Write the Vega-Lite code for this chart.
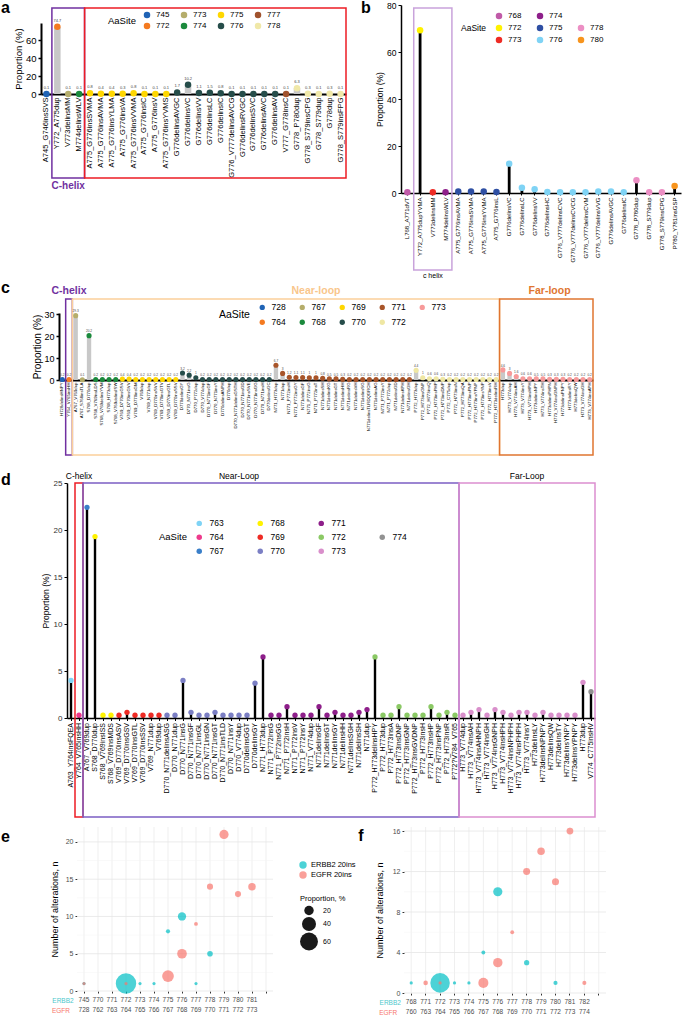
{
"$schema":"https://vega.github.io/schema/vega-lite/v6.json",
"width":683,"height":1016,
"autosize":{"type":"none"},
"padding":0,
"background":"white",
"config":{
  "font":"Liberation Sans",
  "view":{"stroke":null},
  "axis":{"labelColor":"#000","domainColor":"#000","tickColor":"#000","titleColor":"#000","titleFontWeight":"normal","grid":false},
  "legend":{"labelColor":"#000","titleColor":"#000","titleFontWeight":"normal"}
},
"datasets":{
 "a":[
  {"mutation":"A745_G746insSVS","site":"745","value":0.1},
  {"mutation":"Y772_A775dup","site":"772","value":74.7},
  {"mutation":"V773delinsMM","site":"773","value":0.1},
  {"mutation":"M774delinsWLV","site":"774","value":0.1},
  {"mutation":"A775_G776insSVMA","site":"775","value":0.8},
  {"mutation":"A775_G776insAVMA","site":"775","value":0.4},
  {"mutation":"A775_G776insYLMA","site":"775","value":0.4},
  {"mutation":"A775_G776insVA","site":"775","value":0.3},
  {"mutation":"A775_G776insVVMA","site":"775","value":0.8},
  {"mutation":"A775_G776insIC","site":"775","value":0.1},
  {"mutation":"A775_G776insV","site":"775","value":0.1},
  {"mutation":"A775_G776insYVMS","site":"775","value":0.1},
  {"mutation":"G776delinsAVGC","site":"776","value":1.7},
  {"mutation":"G776delinsVC","site":"776","value":10.2},
  {"mutation":"G776delinsVV","site":"776","value":1.1},
  {"mutation":"G776delinsLC","site":"776","value":1.5},
  {"mutation":"G776delinsIC","site":"776","value":0.8},
  {"mutation":"G776_V777delinsAVCG","site":"776","value":0.1},
  {"mutation":"G776delinsRVGC","site":"776","value":0.1},
  {"mutation":"G776delinsSVC","site":"776","value":0.1},
  {"mutation":"G776delinsAVC","site":"776","value":0.1},
  {"mutation":"G776delinsAV","site":"776","value":0.1},
  {"mutation":"V777_G778insC","site":"777","value":0.1},
  {"mutation":"G778_P780dup","site":"778","value":6.3},
  {"mutation":"G778_S779insCPG","site":"778","value":0.3},
  {"mutation":"G778_S779dup","site":"778","value":0.1},
  {"mutation":"G778dup","site":"778","value":0.3},
  {"mutation":"G778_S779insFPG","site":"778","value":0.1}
 ],
 "aBox":[
  {"region":"C-helix","first":"Y772_A775dup","last":"M774delinsWLV","at":"V773delinsMM"},
  {"region":"rest","first":"A775_G776insSVMA","last":"G778_S779insFPG","at":"G776delinsLC"}
 ],
 "b":[
  {"mutation":"L768_A771dVT","site":"768","value":0.3},
  {"mutation":"Y772_A775dupYVMA","site":"772","value":69.3},
  {"mutation":"V773delinsMM","site":"773","value":0.3},
  {"mutation":"M774delinsWLV","site":"774","value":0.3},
  {"mutation":"A775_G776insAVMA","site":"775","value":0.6},
  {"mutation":"A775_G776insSVMA","site":"775","value":0.6},
  {"mutation":"A775_G776insYVMA","site":"775","value":0.6},
  {"mutation":"A775_G776insL","site":"775","value":0.4},
  {"mutation":"G776delinsVC","site":"776","value":12.5},
  {"mutation":"G776delinsLC","site":"776","value":2.2},
  {"mutation":"G776delinsVV","site":"776","value":1.6},
  {"mutation":"G776delinsHC","site":"776","value":0.4},
  {"mutation":"G776_V777delinsCVC","site":"776","value":0.3},
  {"mutation":"G776_V777delinsCVCG","site":"776","value":0.3},
  {"mutation":"G776_V777delinsCVM","site":"776","value":0.3},
  {"mutation":"G776_V777delinsVVG","site":"776","value":0.6},
  {"mutation":"G776delinsAVGC","site":"776","value":0.6},
  {"mutation":"G776delinsIC","site":"776","value":0.3},
  {"mutation":"G778_P780dup","site":"778","value":5.4},
  {"mutation":"G778_S779dup","site":"778","value":0.3},
  {"mutation":"G778_S779insCPG","site":"778","value":0.3},
  {"mutation":"P780_Y781insGSP","site":"780","value":3.0}
 ],
 "bBox":[
  {"region":"c helix","first":"Y772_A775dupYVMA","last":"M774delinsWLV","at":"V773delinsMM"}
 ],
 "c":[
  {"mutation":"H728delinsHNPY","site":"728","value":0.2},
  {"mutation":"Y764_V765insHH","site":"764","value":0.2},
  {"mutation":"A767_V769dup","site":"767","value":29.3},
  {"mutation":"A767_S768insTLA","site":"767","value":0.1},
  {"mutation":"S768_D770dup","site":"768","value":20.2},
  {"mutation":"S768_V769insLDS","site":"768","value":0.2},
  {"mutation":"S768_V769delinsYVM","site":"768","value":0.2},
  {"mutation":"S768_H773dup","site":"768","value":0.2},
  {"mutation":"S768_V769delinsISW","site":"768","value":0.2},
  {"mutation":"V769_D770insGSV","site":"769","value":0.4},
  {"mutation":"V769_D770insGVV","site":"769","value":0.4},
  {"mutation":"V769_D770insGM","site":"769","value":0.2},
  {"mutation":"V769dup","site":"769","value":0.2},
  {"mutation":"V769_N771dup","site":"769","value":0.2},
  {"mutation":"V769_D770insSVV","site":"769","value":0.2},
  {"mutation":"V769_D770insGTV","site":"769","value":0.2},
  {"mutation":"V769_D770insGTL","site":"769","value":0.2},
  {"mutation":"V769_D770insSSV","site":"769","value":0.2},
  {"mutation":"D770delinsGY","site":"770","value":3.2},
  {"mutation":"D770_N771insG","site":"770","value":2.2},
  {"mutation":"D770_P772dup","site":"770","value":1.0},
  {"mutation":"D770_V774dup","site":"770","value":0.2},
  {"mutation":"D770_N771insGF","site":"770","value":0.2},
  {"mutation":"D770_N771insY","site":"770","value":0.2},
  {"mutation":"D770delinsANPH","site":"770","value":0.2},
  {"mutation":"D770dup","site":"770","value":0.2},
  {"mutation":"D770_N771delinsGSTH","site":"770","value":0.2},
  {"mutation":"D770_N771insGD","site":"770","value":0.2},
  {"mutation":"D770_N771insSVE","site":"770","value":0.2},
  {"mutation":"D770_N771insGG","site":"770","value":0.2},
  {"mutation":"D770_N771insH","site":"770","value":0.2},
  {"mutation":"D770delinsGC","site":"770","value":0.2},
  {"mutation":"N771_H773dup","site":"771","value":6.7},
  {"mutation":"N771dup","site":"771","value":3.0},
  {"mutation":"N771_P772insH","site":"771","value":1.2},
  {"mutation":"N771_P772insGY","site":"771","value":1.1},
  {"mutation":"N771delinsGF","site":"771","value":1.1},
  {"mutation":"N771_P772insG","site":"771","value":1.0},
  {"mutation":"N771_P772insT","site":"771","value":1.0},
  {"mutation":"N771delinsSH","site":"771","value":0.8},
  {"mutation":"N771delinsKG","site":"771","value":0.5},
  {"mutation":"N771delinsGT","site":"771","value":0.5},
  {"mutation":"N771delinsHH","site":"771","value":0.3},
  {"mutation":"N771delinsRG","site":"771","value":0.2},
  {"mutation":"N771delinsVH","site":"771","value":0.2},
  {"mutation":"N771delinsSG","site":"771","value":0.2},
  {"mutation":"N771delinsTLRDQGRCH","site":"771","value":0.2},
  {"mutation":"N771delinsAG","site":"771","value":0.2},
  {"mutation":"N771_P772insY","site":"771","value":0.2},
  {"mutation":"N771_P772dup","site":"771","value":0.2},
  {"mutation":"N771delinsGD","site":"771","value":0.2},
  {"mutation":"N771delinsKPH","site":"771","value":0.2},
  {"mutation":"N771delinsGH","site":"771","value":0.2},
  {"mutation":"P772_H773dup","site":"772","value":4.4},
  {"mutation":"P772_H773insGNP","site":"772","value":1.0},
  {"mutation":"P772_H773insQ","site":"772","value":0.6},
  {"mutation":"P772_H773insPHP","site":"772","value":0.6},
  {"mutation":"P772_H773insDNP","site":"772","value":0.3},
  {"mutation":"P772_C775dup","site":"772","value":0.2},
  {"mutation":"P772_H773insN","site":"772","value":0.2},
  {"mutation":"P772_H773insQA","site":"772","value":0.2},
  {"mutation":"P772_H773insPNP","site":"772","value":0.2},
  {"mutation":"P772_H773insYPNP","site":"772","value":0.2},
  {"mutation":"P772_H773insYNP","site":"772","value":0.2},
  {"mutation":"P772_H773insV","site":"772","value":0.2},
  {"mutation":"P772_H773delinsRH","site":"772","value":0.2},
  {"mutation":"H773dup","site":"773","value":4.6},
  {"mutation":"H773_V774dup","site":"773","value":3.0},
  {"mutation":"H773_V774insAH","site":"773","value":1.6},
  {"mutation":"H773_V774insY","site":"773","value":0.6},
  {"mutation":"H773_V774insHPH","site":"773","value":0.6},
  {"mutation":"H773delinsNPY","site":"773","value":0.5},
  {"mutation":"H773_V774insTH","site":"773","value":0.5},
  {"mutation":"H773delinsPHPN","site":"773","value":0.3},
  {"mutation":"H773_V774insGNPH","site":"773","value":0.3},
  {"mutation":"H773delinsPNPY","site":"773","value":0.3},
  {"mutation":"H773delinsRY","site":"773","value":0.2},
  {"mutation":"H773delinsQW","site":"773","value":0.2},
  {"mutation":"H773_V774insGH","site":"773","value":0.2},
  {"mutation":"H773_V774insAPH","site":"773","value":0.2}
 ],
 "cBox":[
  {"region":"C-helix","first":"Y764_V765insHH","last":"Y764_V765insHH","at":"Y764_V765insHH"},
  {"region":"Near-loop","first":"A767_V769dup","last":"P772_H773delinsRH","at":"N771_P772insT"},
  {"region":"Far-loop","first":"H773dup","last":"H773_V774insAPH","at":"H773delinsPHPN"}
 ],
 "d":[
  {"mutation":"A763_Y764insFQEA","site":"763","value":4.0},
  {"mutation":"Y764_V765insHH","site":"764","value":0.3},
  {"mutation":"A767_V769dup","site":"767","value":22.4},
  {"mutation":"S768_D770dup","site":"768","value":19.3},
  {"mutation":"S768_V769insISS","site":"768","value":0.3},
  {"mutation":"S768_V769insMDS","site":"768","value":0.3},
  {"mutation":"V769_D770insASV","site":"769","value":0.3},
  {"mutation":"V769_D770insGSV","site":"769","value":0.6},
  {"mutation":"V769_D770insGTL","site":"769","value":0.3},
  {"mutation":"V769_D770insSSV","site":"769","value":0.3},
  {"mutation":"V769_N771dup","site":"769","value":0.3},
  {"mutation":"V769dup","site":"769","value":0.3},
  {"mutation":"D770_N771delinsASG","site":"770","value":0.3},
  {"mutation":"D770_N771dup","site":"770","value":0.3},
  {"mutation":"D770_N771insG","site":"770","value":4.0},
  {"mutation":"D770_N771insGF","site":"770","value":0.6},
  {"mutation":"D770_N771insGL","site":"770","value":0.3},
  {"mutation":"D770_N771insGN","site":"770","value":0.3},
  {"mutation":"D770_N771insGT","site":"770","value":0.6},
  {"mutation":"D770_N771insTLD","site":"770","value":0.3},
  {"mutation":"D770_N771insY","site":"770","value":0.3},
  {"mutation":"D770_V774dup","site":"770","value":0.3},
  {"mutation":"D770delinsGGT","site":"770","value":0.3},
  {"mutation":"D770delinsGY","site":"770","value":3.7},
  {"mutation":"N771_H773dup","site":"771","value":6.5},
  {"mutation":"N771_P772insG","site":"771","value":0.3},
  {"mutation":"N771_P772insGG","site":"771","value":0.3},
  {"mutation":"N771_P772insH","site":"771","value":1.2},
  {"mutation":"N771_P772insV","site":"771","value":0.3},
  {"mutation":"N771_P772insY","site":"771","value":0.3},
  {"mutation":"N771_V774dup","site":"771","value":0.3},
  {"mutation":"N771delinsGF","site":"771","value":1.2},
  {"mutation":"N771delinsGT","site":"771","value":0.3},
  {"mutation":"N771delinsGY","site":"771","value":0.6},
  {"mutation":"N771delinsHH","site":"771","value":0.3},
  {"mutation":"N771delinsSGH","site":"771","value":0.3},
  {"mutation":"N771delinsSH","site":"771","value":0.6},
  {"mutation":"N771dup","site":"771","value":0.9},
  {"mutation":"P772_H773delinsHPY","site":"772","value":6.5},
  {"mutation":"P772_H773dup","site":"772","value":0.3},
  {"mutation":"P772_H773insA","site":"772","value":0.3},
  {"mutation":"P772_H773insDNP","site":"772","value":1.2},
  {"mutation":"P772_H773insGNP","site":"772","value":0.3},
  {"mutation":"P772_H773insGVDNP","site":"772","value":0.3},
  {"mutation":"P772_H773insH","site":"772","value":0.3},
  {"mutation":"P772_H773insHP","site":"772","value":1.2},
  {"mutation":"P772_H773insPNP","site":"772","value":0.3},
  {"mutation":"P772_H773insR","site":"772","value":0.6},
  {"mutation":"P772?V784_V765","site":"772","value":0.3},
  {"mutation":"H773_V774dup","site":"773","value":0.3},
  {"mutation":"H773_V774insAH","site":"773","value":0.6},
  {"mutation":"H773_V774insAHNPH","site":"773","value":0.9},
  {"mutation":"H773_V774insGH","site":"773","value":0.3},
  {"mutation":"H773_V774insGNPH","site":"773","value":0.9},
  {"mutation":"H773_V774insHPH","site":"773","value":0.6},
  {"mutation":"H773_V774insNPHPH","site":"773","value":0.3},
  {"mutation":"H773_V774insPHPH","site":"773","value":0.6},
  {"mutation":"H773_V774insY","site":"773","value":0.6},
  {"mutation":"H773delinsLY","site":"773","value":0.3},
  {"mutation":"H773delinsNPNPY","site":"773","value":0.6},
  {"mutation":"H773delinsQW","site":"773","value":0.3},
  {"mutation":"H773delinsTY","site":"773","value":0.3},
  {"mutation":"H773delinsYNPY","site":"773","value":0.3},
  {"mutation":"H773delinsYPNPY","site":"773","value":0.3},
  {"mutation":"H773dup","site":"773","value":3.8},
  {"mutation":"V774_C775insHV","site":"774","value":2.8}
 ],
 "dBox":[
  {"region":"C-helix","first":"Y764_V765insHH","last":"Y764_V765insHH","at":"Y764_V765insHH"},
  {"region":"Near-Loop","first":"A767_V769dup","last":"P772?V784_V765","at":"D770_V774dup"},
  {"region":"Far-Loop","first":"H773_V774dup","last":"V774_C775insHV","at":"H773_V774insY"}
 ],
 "e":[
  {"pos":"745|728","gene":"ERBB2 20ins","n":1,"prop":0.1},
  {"pos":"772|764","gene":"ERBB2 20ins","n":1,"prop":74.7},
  {"pos":"773|765","gene":"ERBB2 20ins","n":1,"prop":0.1},
  {"pos":"774|766","gene":"ERBB2 20ins","n":1,"prop":0.1},
  {"pos":"775|767","gene":"ERBB2 20ins","n":8,"prop":3.0},
  {"pos":"776|768","gene":"ERBB2 20ins","n":10,"prop":15.8},
  {"pos":"777|769","gene":"ERBB2 20ins","n":1,"prop":0.1},
  {"pos":"778|770","gene":"ERBB2 20ins","n":5,"prop":7.1},
  {"pos":"745|728","gene":"EGFR 20ins","n":1,"prop":0.2},
  {"pos":"772|764","gene":"EGFR 20ins","n":1,"prop":0.2},
  {"pos":"775|767","gene":"EGFR 20ins","n":2,"prop":29.4},
  {"pos":"776|768","gene":"EGFR 20ins","n":5,"prop":21.0},
  {"pos":"777|769","gene":"EGFR 20ins","n":9,"prop":2.1},
  {"pos":"778|770","gene":"EGFR 20ins","n":14,"prop":8.6},
  {"pos":"779|771","gene":"EGFR 20ins","n":21,"prop":19.2},
  {"pos":"780|772","gene":"EGFR 20ins","n":13,"prop":8.5},
  {"pos":"781|773","gene":"EGFR 20ins","n":14,"prop":13.1}
 ],
 "eCats":[
  {"pos":"745|728"},{"pos":"770|762"},{"pos":"771|763"},{"pos":"772|764"},{"pos":"773|765"},{"pos":"774|766"},{"pos":"775|767"},{"pos":"776|768"},{"pos":"777|769"},{"pos":"778|770"},{"pos":"779|771"},{"pos":"780|772"},{"pos":"781|773"},{"pos":"|"}
 ],
 "eGrid":[
  {"g":0,"from":"745|728","to":"|"},{"g":2.5,"from":"745|728","to":"|"},{"g":5,"from":"745|728","to":"|"},{"g":7.5,"from":"745|728","to":"|"},{"g":10,"from":"745|728","to":"|"},{"g":12.5,"from":"745|728","to":"|"},{"g":15,"from":"745|728","to":"|"},{"g":17.5,"from":"745|728","to":"|"},{"g":20,"from":"745|728","to":"|"}
 ],
 "f":[
  {"pos":"768|760","gene":"ERBB2 20ins","n":1,"prop":0.3},
  {"pos":"772|764","gene":"ERBB2 20ins","n":1,"prop":69.3},
  {"pos":"773|765","gene":"ERBB2 20ins","n":1,"prop":0.3},
  {"pos":"774|766","gene":"ERBB2 20ins","n":1,"prop":0.3},
  {"pos":"775|767","gene":"ERBB2 20ins","n":4,"prop":2.2},
  {"pos":"776|768","gene":"ERBB2 20ins","n":10,"prop":19.1},
  {"pos":"778|770","gene":"ERBB2 20ins","n":3,"prop":6.0},
  {"pos":"780|772","gene":"ERBB2 20ins","n":1,"prop":3.0},
  {"pos":"771|763","gene":"EGFR 20ins","n":1,"prop":4.0},
  {"pos":"772|764","gene":"EGFR 20ins","n":1,"prop":0.3},
  {"pos":"775|767","gene":"EGFR 20ins","n":1,"prop":22.4},
  {"pos":"776|768","gene":"EGFR 20ins","n":3,"prop":19.9},
  {"pos":"777|769","gene":"EGFR 20ins","n":6,"prop":2.1},
  {"pos":"778|770","gene":"EGFR 20ins","n":12,"prop":11.4},
  {"pos":"779|771","gene":"EGFR 20ins","n":14,"prop":13.4},
  {"pos":"780|772","gene":"EGFR 20ins","n":11,"prop":11.6},
  {"pos":"781|773","gene":"EGFR 20ins","n":16,"prop":10.8},
  {"pos":"782|774","gene":"EGFR 20ins","n":1,"prop":2.8}
 ],
 "fCats":[
  {"pos":"768|760"},{"pos":"771|763"},{"pos":"772|764"},{"pos":"773|765"},{"pos":"774|766"},{"pos":"775|767"},{"pos":"776|768"},{"pos":"777|769"},{"pos":"778|770"},{"pos":"779|771"},{"pos":"780|772"},{"pos":"781|773"},{"pos":"782|774"},{"pos":"|"}
 ],
 "fGrid":[
  {"g":0,"from":"768|760","to":"|"},{"g":2,"from":"768|760","to":"|"},{"g":4,"from":"768|760","to":"|"},{"g":6,"from":"768|760","to":"|"},{"g":8,"from":"768|760","to":"|"},{"g":10,"from":"768|760","to":"|"},{"g":12,"from":"768|760","to":"|"},{"g":14,"from":"768|760","to":"|"},{"g":16,"from":"768|760","to":"|"}
 ]
},
"layer":[
 {"layer":[
  {"data":{"name":"a"},"mark":{"type":"bar","color":"#c8c8c8","width":{"band":0.6}},
   "encoding":{
    "x":{"field":"mutation","type":"nominal","title":null,"scale":{"domain":["A745_G746insSVS","Y772_A775dup","V773delinsMM","M774delinsWLV","A775_G776insSVMA","A775_G776insAVMA","A775_G776insYLMA","A775_G776insVA","A775_G776insVVMA","A775_G776insIC","A775_G776insV","A775_G776insYVMS","G776delinsAVGC","G776delinsVC","G776delinsVV","G776delinsLC","G776delinsIC","G776_V777delinsAVCG","G776delinsRVGC","G776delinsSVC","G776delinsAVC","G776delinsAV","V777_G778insC","G778_P780dup","G778_S779insCPG","G778_S779dup","G778dup","G778_S779insFPG"],"range":[41,346],"paddingInner":0,"paddingOuter":0},
         "axis":{"orient":"bottom","offset":-922,"labelAngle":-90,"labelFontSize":7.5,"ticks":false,"domainWidth":2,"labelPadding":3}},
    "y":{"field":"value","type":"quantitative","scale":{"domain":[0,79],"range":[94,23],"nice":false,"zero":false},
         "axis":{"title":"Proportion (%)","orient":"left","offset":-41,"values":[0,20,40,60],"domainWidth":2,"tickSize":3,"tickWidth":1.5,"labelFontSize":9.5,"titleFontSize":9.5,"titlePadding":2,"labelPadding":2}}}},
  {"data":{"name":"aBox"},"mark":{"type":"rect","fillOpacity":0,"strokeWidth":1.5},
   "encoding":{
    "x":{"field":"first","type":"nominal","bandPosition":0,"title":null},
    "x2":{"field":"last","bandPosition":1},
    "y":{"datum":95.7,"type":"quantitative"},
    "y2":{"datum":-93.5},
    "stroke":{"field":"region","type":"nominal","scale":{"domain":["C-helix","rest"],"range":["#7030a0","#ed1c24"]},"legend":null}}},
  {"data":{"name":"a"},"mark":{"type":"circle","size":42,"opacity":1},
   "encoding":{
    "x":{"field":"mutation","type":"nominal","title":null},
    "y":{"field":"value","type":"quantitative"},
    "color":{"field":"site","type":"nominal","scale":{"domain":["745","773","775","777","772","774","776","778"],"range":["#1f63b5","#b5ad6b","#ffd700","#a0522d","#f47a20","#1b8a3c","#264d4a","#f0e8a8"]},
     "legend":{"title":"AaSite","orient":"none","legendX":108,"legendY":11,"direction":"horizontal","columns":4,"titleOrient":"left","titleAnchor":"middle","titleFontSize":9.5,"titlePadding":7,"labelFontSize":8,"symbolSize":42,"symbolType":"circle","symbolStrokeWidth":0,"labelOffset":5,"columnPadding":10,"rowPadding":3}}}},
  {"data":{"name":"a"},"mark":{"type":"text","fontSize":4,"dy":-6,"color":"#444"},
   "encoding":{
    "x":{"field":"mutation","type":"nominal","title":null},
    "y":{"field":"value","type":"quantitative"},
    "text":{"field":"value","type":"quantitative","format":"~g"}}},
  {"data":{"name":"aBox"},"transform":[{"filter":"datum.region == 'C-helix'"}],"mark":{"type":"text","fontSize":10,"fontWeight":"bold","color":"#7030a0"},
   "encoding":{
    "x":{"field":"at","type":"nominal","title":null},
    "y":{"datum":-102.4,"type":"quantitative"},
    "text":{"field":"region"}}},
  {"data":{"values":[{"letter":"a"}]},"mark":{"type":"text","fontSize":16,"fontWeight":"bold","align":"left","baseline":"alphabetic","dx":-45.5},
   "encoding":{
    "x":{"datum":"A745_G746insSVS","type":"nominal"},
    "y":{"datum":90.1,"type":"quantitative"},
    "text":{"field":"letter"}}}
 ]},
 {"layer":[
  {"data":{"name":"b"},"mark":{"type":"bar","color":"#000","width":{"band":0.22}},
   "encoding":{
    "x":{"field":"mutation","type":"nominal","title":null,"scale":{"domain":["L768_A771dVT","Y772_A775dupYVMA","V773delinsMM","M774delinsWLV","A775_G776insAVMA","A775_G776insSVMA","A775_G776insYVMA","A775_G776insL","G776delinsVC","G776delinsLC","G776delinsVV","G776delinsHC","G776_V777delinsCVC","G776_V777delinsCVCG","G776_V777delinsCVM","G776_V777delinsVVG","G776delinsAVGC","G776delinsIC","G778_P780dup","G778_S779dup","G778_S779insCPG","P780_Y781insGSP"],"range":[401,681],"paddingInner":0,"paddingOuter":0},
         "axis":{"orient":"bottom","offset":-823,"labelAngle":-90,"labelFontSize":6,"tickSize":2,"domainWidth":1.5,"labelPadding":2}},
    "y":{"field":"value","type":"quantitative","scale":{"domain":[0,80],"range":[193,5],"nice":false,"zero":false},
         "axis":{"title":"Proportion (%)","orient":"left","offset":-401,"values":[0,20,40,60,80],"domainWidth":1.5,"tickSize":3,"labelFontSize":8.5,"titleFontSize":8.5,"titlePadding":2,"labelPadding":2}}}},
  {"data":{"name":"bBox"},"mark":{"type":"rect","fillOpacity":0,"stroke":"#c9a3db","strokeWidth":1.5},
   "encoding":{
    "x":{"field":"first","type":"nominal","bandPosition":0,"title":null},
    "x2":{"field":"last","bandPosition":1},
    "y":{"datum":78.7,"type":"quantitative"},
    "y2":{"datum":-32.8}}},
  {"data":{"name":"b"},"mark":{"type":"circle","size":42,"opacity":1},
   "encoding":{
    "x":{"field":"mutation","type":"nominal","title":null},
    "y":{"field":"value","type":"quantitative"},
    "color":{"field":"site","type":"nominal","scale":{"domain":["768","774","_b","772","775","778","773","776","780"],"range":["#c05aa8","#8e1f8a","transparent","#fff200","#2e4fa3","#ec8fc4","#ee2b24","#7fd3f5","#f7941d"]},
     "legend":{"title":"AaSite","orient":"none","legendX":461,"legendY":12,"direction":"horizontal","columns":3,"titleOrient":"left","titleFontSize":8.5,"titlePadding":8,"labelFontSize":8,"symbolSize":42,"symbolType":"circle","symbolStrokeWidth":0,"labelOffset":5,"columnPadding":14,"rowPadding":4,"labelExpr":"datum.label == '_b' ? '' : datum.label"}}}},
  {"data":{"name":"bBox"},"mark":{"type":"text","fontSize":7,"color":"#000"},
   "encoding":{
    "x":{"field":"at","type":"nominal","title":null},
    "y":{"datum":-35.3,"type":"quantitative"},
    "text":{"field":"region"}}},
  {"data":{"values":[{"letter":"b"}]},"mark":{"type":"text","fontSize":16,"fontWeight":"bold","align":"left","baseline":"alphabetic","dx":-46.4},
   "encoding":{
    "x":{"datum":"L768_A771dVT","type":"nominal"},
    "y":{"datum":76.6,"type":"quantitative"},
    "text":{"field":"letter"}}}
 ]},
 {"layer":[
  {"data":{"name":"c"},"mark":{"type":"bar","color":"#c8c8c8","width":{"band":0.65}},
   "encoding":{
    "x":{"field":"mutation","type":"nominal","title":null,"scale":{"domain":["H728delinsHNPY","Y764_V765insHH","A767_V769dup","A767_S768insTLA","S768_D770dup","S768_V769insLDS","S768_V769delinsYVM","S768_H773dup","S768_V769delinsISW","V769_D770insGSV","V769_D770insGVV","V769_D770insGM","V769dup","V769_N771dup","V769_D770insSVV","V769_D770insGTV","V769_D770insGTL","V769_D770insSSV","D770delinsGY","D770_N771insG","D770_P772dup","D770_V774dup","D770_N771insGF","D770_N771insY","D770delinsANPH","D770dup","D770_N771delinsGSTH","D770_N771insGD","D770_N771insSVE","D770_N771insGG","D770_N771insH","D770delinsGC","N771_H773dup","N771dup","N771_P772insH","N771_P772insGY","N771delinsGF","N771_P772insG","N771_P772insT","N771delinsSH","N771delinsKG","N771delinsGT","N771delinsHH","N771delinsRG","N771delinsVH","N771delinsSG","N771delinsTLRDQGRCH","N771delinsAG","N771_P772insY","N771_P772dup","N771delinsGD","N771delinsKPH","N771delinsGH","P772_H773dup","P772_H773insGNP","P772_H773insQ","P772_H773insPHP","P772_H773insDNP","P772_C775dup","P772_H773insN","P772_H773insQA","P772_H773insPNP","P772_H773insYPNP","P772_H773insYNP","P772_H773insV","P772_H773delinsRH","H773dup","H773_V774dup","H773_V774insAH","H773_V774insY","H773_V774insHPH","H773delinsNPY","H773_V774insTH","H773delinsPHPN","H773_V774insGNPH","H773delinsPNPY","H773delinsRY","H773delinsQW","H773_V774insGH","H773_V774insAPH"],"range":[59,593],"paddingInner":0,"paddingOuter":0},
         "axis":{"orient":"bottom","offset":-636,"labelAngle":-90,"labelFontSize":4.3,"ticks":false,"domainWidth":2,"labelPadding":2}},
    "y":{"field":"value","type":"quantitative","scale":{"domain":[0,30.5],"range":[380,313],"nice":false,"zero":false},
         "axis":{"title":"Proportion (%)","orient":"left","offset":-59,"values":[0,10,20,30],"domainWidth":2,"tickSize":3,"tickWidth":1.5,"labelFontSize":9,"titleFontSize":10,"titlePadding":1,"labelPadding":2}}}},
  {"data":{"name":"cBox"},"mark":{"type":"rect","fillOpacity":0,"strokeWidth":1.5},
   "encoding":{
    "x":{"field":"first","type":"nominal","bandPosition":0,"title":null},
    "x2":{"field":"last","bandPosition":1},
    "y":{"datum":36.9,"type":"quantitative"},
    "y2":{"datum":-34.1},
    "stroke":{"field":"region","type":"nominal","scale":{"domain":["C-helix","Near-loop","Far-loop"],"range":["#7030a0","#fcd09a","#e07530"]},"legend":null}}},
  {"data":{"name":"c"},"mark":{"type":"circle","size":26,"opacity":1},
   "encoding":{
    "x":{"field":"mutation","type":"nominal","title":null},
    "y":{"field":"value","type":"quantitative"},
    "color":{"field":"site","type":"nominal","scale":{"domain":["728","767","769","771","773","764","768","770","772"],"range":["#1f63b5","#b5ad6b","#ffd700","#a8552a","#f79a9a","#f47a20","#1b8a3c","#264d4a","#efe7a3"]},
     "legend":{"title":"AaSite","orient":"none","legendX":219,"legendY":303,"direction":"horizontal","columns":5,"titleOrient":"left","titleAnchor":"middle","titleFontSize":10.5,"titlePadding":8,"labelFontSize":8.5,"symbolSize":28,"symbolType":"circle","symbolStrokeWidth":0,"labelOffset":5,"columnPadding":12,"rowPadding":6}}}},
  {"data":{"name":"c"},"mark":{"type":"text","fontSize":3.2,"dy":-4.5,"color":"#444"},
   "encoding":{
    "x":{"field":"mutation","type":"nominal","title":null},
    "y":{"field":"value","type":"quantitative"},
    "text":{"field":"value","type":"quantitative","format":"~g"}}},
  {"data":{"name":"cBox"},"mark":{"type":"text","fontSize":10.5,"fontWeight":"bold"},
   "encoding":{
    "x":{"field":"at","type":"nominal","title":null},
    "y":{"datum":40.5,"type":"quantitative"},
    "text":{"field":"region"},
    "fill":{"field":"region","type":"nominal","scale":{"domain":["C-helix","Near-loop","Far-loop"],"range":["#7030a0","#f9c68b","#e07530"]},"legend":null}}},
  {"data":{"values":[{"letter":"c"}]},"mark":{"type":"text","fontSize":16,"fontWeight":"bold","align":"left","baseline":"alphabetic","dx":-61.3},
   "encoding":{
    "x":{"datum":"H728delinsHNPY","type":"nominal"},
    "y":{"datum":39.4,"type":"quantitative"},
    "text":{"field":"letter"}}}
 ]},
 {"layer":[
  {"data":{"name":"d"},"mark":{"type":"bar","color":"#000","width":{"band":0.3}},
   "encoding":{
    "x":{"field":"mutation","type":"nominal","title":null,"scale":{"domain":["A763_Y764insFQEA","Y764_V765insHH","A767_V769dup","S768_D770dup","S768_V769insISS","S768_V769insMDS","V769_D770insASV","V769_D770insGSV","V769_D770insGTL","V769_D770insSSV","V769_N771dup","V769dup","D770_N771delinsASG","D770_N771dup","D770_N771insG","D770_N771insGF","D770_N771insGL","D770_N771insGN","D770_N771insGT","D770_N771insTLD","D770_N771insY","D770_V774dup","D770delinsGGT","D770delinsGY","N771_H773dup","N771_P772insG","N771_P772insGG","N771_P772insH","N771_P772insV","N771_P772insY","N771_V774dup","N771delinsGF","N771delinsGT","N771delinsGY","N771delinsHH","N771delinsSGH","N771delinsSH","N771dup","P772_H773delinsHPY","P772_H773dup","P772_H773insA","P772_H773insDNP","P772_H773insGNP","P772_H773insGVDNP","P772_H773insH","P772_H773insHP","P772_H773insPNP","P772_H773insR","P772?V784_V765","H773_V774dup","H773_V774insAH","H773_V774insAHNPH","H773_V774insGH","H773_V774insGNPH","H773_V774insHPH","H773_V774insNPHPH","H773_V774insPHPH","H773_V774insY","H773delinsLY","H773delinsNPNPY","H773delinsQW","H773delinsTY","H773delinsYNPY","H773delinsYPNPY","H773dup","V774_C775insHV"],"range":[67,595],"paddingInner":0,"paddingOuter":0},
         "axis":{"orient":"bottom","offset":-298,"labelAngle":-90,"labelFontSize":7,"tickSize":2.5,"domainWidth":1.5,"labelPadding":2}},
    "y":{"field":"value","type":"quantitative","scale":{"domain":[0,25],"range":[718,483],"nice":false,"zero":false},
         "axis":{"title":"Proportion (%)","orient":"left","offset":-67,"values":[0,5,10,15,20,25],"domainWidth":1.5,"tickSize":3,"labelFontSize":8,"labelColor":"#333","titleFontSize":8.5,"titlePadding":3,"labelPadding":2}}}},
  {"data":{"name":"dBox"},"mark":{"type":"rect","fillOpacity":0,"strokeWidth":1.5},
   "encoding":{
    "x":{"field":"first","type":"nominal","bandPosition":0,"title":null},
    "x2":{"field":"last","bandPosition":1},
    "y":{"datum":25,"type":"quantitative"},
    "y2":{"datum":-10.53},
    "stroke":{"field":"region","type":"nominal","scale":{"domain":["C-helix","Near-Loop","Far-Loop"],"range":["#ed1c24","#7c5fc4","#dc8fcf"]},"legend":null}}},
  {"data":{"name":"d"},"mark":{"type":"circle","size":28,"opacity":1},
   "encoding":{
    "x":{"field":"mutation","type":"nominal","title":null},
    "y":{"field":"value","type":"quantitative"},
    "color":{"field":"site","type":"nominal","scale":{"domain":["763","768","771","_b","764","769","772","774","767","770","773"],"range":["#7fd3f5","#fff200","#8e1f8a","transparent","#ee3a8c","#ee2b24","#8bc965","#929292","#3a7fc9","#7b7fc4","#d98fcb"]},
     "legend":{"title":"AaSite","orient":"none","legendX":159,"legendY":519,"direction":"horizontal","columns":4,"titleOrient":"left","titleFontSize":9.5,"titlePadding":8,"labelFontSize":8.5,"symbolSize":30,"symbolType":"circle","symbolStrokeWidth":0,"labelOffset":6,"columnPadding":32,"rowPadding":5,"labelExpr":"datum.label == '_b' ? '' : datum.label"}}}},
  {"data":{"name":"dBox"},"mark":{"type":"text","fontSize":8.5,"color":"#000"},
   "encoding":{
    "x":{"field":"at","type":"nominal","title":null},
    "y":{"datum":25.74,"type":"quantitative"},
    "text":{"field":"region"}}},
  {"data":{"values":[{"letter":"d"}]},"mark":{"type":"text","fontSize":16,"fontWeight":"bold","align":"left","baseline":"alphabetic","dx":-70},
   "encoding":{
    "x":{"datum":"A763_Y764insFQEA","type":"nominal"},
    "y":{"datum":24.8,"type":"quantitative"},
    "text":{"field":"letter"}}}
 ]},
 {"layer":[
  {"data":{"name":"eCats"},"mark":{"type":"rule","color":"#ebebeb","strokeWidth":0.8},
   "encoding":{
    "x":{"field":"pos","type":"nominal","title":null,"scale":{"domain":["745|728","770|762","771|763","772|764","773|765","774|766","775|767","776|768","777|769","778|770","779|771","780|772","781|773","|"],"range":[77,273],"paddingInner":0,"paddingOuter":0},
         "axis":{"orient":"bottom","offset":-25,"labelExpr":"split(datum.value, '|')","labelAngle":0,"labelFontSize":6.5,"labelColor":"#4d4d4d","labelPadding":3,"labelLineHeight":10,"tickSize":2,"tickColor":"#333","domain":false}},
    "y":{"datum":0,"type":"quantitative","scale":{"domain":[0,22],"range":[991,827],"nice":false,"zero":false}},
    "y2":{"datum":22}}},
  {"data":{"name":"eGrid"},"mark":{"type":"rule"},
   "encoding":{
    "x":{"field":"from","type":"nominal","bandPosition":0,"title":null},
    "x2":{"field":"to","bandPosition":1},
    "y":{"field":"g","type":"quantitative",
         "axis":{"title":"Number of alterations, n","orient":"left","offset":-77,"values":[0,5,10,15,20],"format":"d","domain":false,"tickSize":2,"tickColor":"#333","labelColor":"#4d4d4d","labelFontSize":7,"labelPadding":2,"titleFontSize":9,"titlePadding":6}},
    "color":{"condition":{"test":"datum.g % 5 == 0","value":"#e6e6e6"},"value":"#f2f2f2"},
    "strokeWidth":{"condition":{"test":"datum.g % 5 == 0","value":0.8},"value":0.5}}},
  {"data":{"name":"e"},"mark":{"type":"circle","opacity":0.7},
   "encoding":{
    "x":{"field":"pos","type":"nominal","title":null},
    "y":{"field":"n","type":"quantitative"},
    "size":{"field":"prop","type":"quantitative","scale":{"type":"pow","exponent":1.25,"domain":[0,75],"range":[10,420]},
     "legend":{"title":"Proportion, %","orient":"none","legendX":300,"legendY":895,"values":[20,40,60],"titleFontSize":7.5,"labelFontSize":7,"symbolFillColor":"#1a1a1a","symbolStrokeWidth":0,"symbolOpacity":1,"rowPadding":1,"labelOffset":5,"titlePadding":3}},
    "color":{"field":"gene","type":"nominal","scale":{"domain":["ERBB2 20ins","EGFR 20ins"],"range":["#00BFC4","#F8766D"]},
     "legend":{"title":null,"orient":"none","legendX":299,"legendY":861,"labelFontSize":7.5,"symbolSize":55,"symbolType":"circle","symbolStrokeWidth":0,"rowPadding":2,"labelOffset":4}}}},
  {"data":{"values":[{"t":"ERBB2"}]},"mark":{"type":"text","fontSize":6.5,"color":"#4cc8cc","dx":-21},
   "encoding":{"x":{"datum":"745|728","type":"nominal"},"y":{"datum":-1.34,"type":"quantitative"},"text":{"field":"t"}}},
  {"data":{"values":[{"t":"EGFR"}]},"mark":{"type":"text","fontSize":6.5,"color":"#F8766D","dx":-23},
   "encoding":{"x":{"datum":"745|728","type":"nominal"},"y":{"datum":-2.68,"type":"quantitative"},"text":{"field":"t"}}},
  {"data":{"values":[{"letter":"e"}]},"mark":{"type":"text","fontSize":16,"fontWeight":"bold","align":"left","baseline":"alphabetic","dx":-83},
   "encoding":{"x":{"datum":"745|728","type":"nominal"},"y":{"datum":20.0,"type":"quantitative"},"text":{"field":"letter"}}}
 ]},
 {"layer":[
  {"data":{"name":"fCats"},"mark":{"type":"rule","color":"#ebebeb","strokeWidth":0.8},
   "encoding":{
    "x":{"field":"pos","type":"nominal","title":null,"scale":{"domain":["768|760","771|763","772|764","773|765","774|766","775|767","776|768","777|769","778|770","779|771","780|772","781|773","782|774","|"],"range":[404,606],"paddingInner":0,"paddingOuter":0},
         "axis":{"orient":"bottom","offset":-23,"labelExpr":"split(datum.value, '|')","labelAngle":0,"labelFontSize":6.5,"labelColor":"#4d4d4d","labelPadding":3,"labelLineHeight":10,"tickSize":2,"tickColor":"#333","domain":false}},
    "y":{"datum":0,"type":"quantitative","scale":{"domain":[0,16.4],"range":[993,827],"nice":false,"zero":false}},
    "y2":{"datum":16.4}}},
  {"data":{"name":"fGrid"},"mark":{"type":"rule"},
   "encoding":{
    "x":{"field":"from","type":"nominal","bandPosition":0,"title":null},
    "x2":{"field":"to","bandPosition":1},
    "y":{"field":"g","type":"quantitative",
         "axis":{"title":"Number of alterations, n","orient":"left","offset":-404,"values":[0,4,8,12,16],"format":"d","domain":false,"tickSize":2,"tickColor":"#333","labelColor":"#4d4d4d","labelFontSize":7,"labelPadding":2,"titleFontSize":9,"titlePadding":8}},
    "color":{"condition":{"test":"datum.g % 4 == 0","value":"#e6e6e6"},"value":"#f2f2f2"},
    "strokeWidth":{"condition":{"test":"datum.g % 4 == 0","value":0.8},"value":0.5}}},
  {"data":{"name":"f"},"mark":{"type":"circle","opacity":0.7},
   "encoding":{
    "x":{"field":"pos","type":"nominal","title":null},
    "y":{"field":"n","type":"quantitative"},
    "size":{"field":"prop","type":"quantitative","scale":{"type":"pow","exponent":1.25,"domain":[0,75],"range":[10,420]},"legend":null},
    "color":{"field":"gene","type":"nominal","scale":{"domain":["ERBB2 20ins","EGFR 20ins"],"range":["#00BFC4","#F8766D"]},"legend":null}}},
  {"data":{"values":[{"t":"ERBB2"}]},"mark":{"type":"text","fontSize":6.5,"color":"#4cc8cc","dx":-21},
   "encoding":{"x":{"datum":"768|760","type":"nominal"},"y":{"datum":-0.99,"type":"quantitative"},"text":{"field":"t"}}},
  {"data":{"values":[{"t":"EGFR"}]},"mark":{"type":"text","fontSize":6.5,"color":"#F8766D","dx":-23},
   "encoding":{"x":{"datum":"768|760","type":"nominal"},"y":{"datum":-1.98,"type":"quantitative"},"text":{"field":"t"}}},
  {"data":{"values":[{"letter":"f"}]},"mark":{"type":"text","fontSize":16,"fontWeight":"bold","align":"left","baseline":"alphabetic","dx":-53},
   "encoding":{"x":{"datum":"768|760","type":"nominal"},"y":{"datum":15.0,"type":"quantitative"},"text":{"field":"letter"}}}
 ]}
],
"resolve":{"scale":{"x":"independent","y":"independent","color":"independent","size":"independent","stroke":"independent","fill":"independent","strokeWidth":"independent"},"axis":{"x":"independent","y":"independent"},"legend":{"color":"independent","size":"independent"}}
}
